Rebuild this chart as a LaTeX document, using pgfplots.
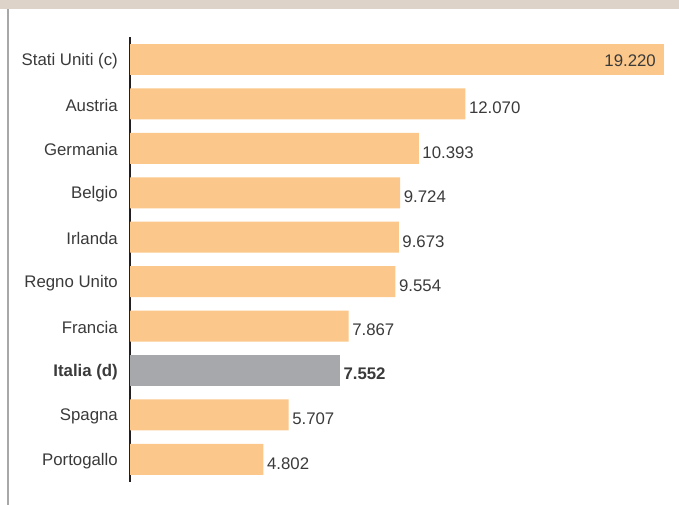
\documentclass[border=0pt]{standalone}
\usepackage{pgfplots}
\pgfplotsset{compat=1.18}
\usepackage{fontspec}
\setmainfont{Liberation Sans}
\definecolor{barorange}{RGB}{251,199,138}
\definecolor{bargray}{RGB}{167,168,172}
\definecolor{txt}{RGB}{58,58,58}
\definecolor{band}{RGB}{222,211,200}
\definecolor{sideline}{RGB}{168,168,168}
\definecolor{axisline}{RGB}{35,31,32}
\begin{document}
\begin{tikzpicture}
\path[use as bounding box] (0,0) rectangle (679bp,505bp);
\fill[band] (0,495.5bp) rectangle (679bp,505bp);
\draw[sideline, line width=2bp] (7.5bp,0) -- (7.5bp,495.5bp);
\begin{axis}[
  at={(130bp,23.4bp)}, anchor=south west,
  scale only axis, width=534bp, height=444.3bp,
  xmin=0, xmax=19220,
  ymin=-0.5, ymax=9.5,
  y dir=reverse,
  axis x line=none,
  axis y line*=left,
  axis line style={line width=2bp, color=axisline},
  ytick={0,...,9},
  yticklabels={Stati Uniti (c),Austria,Germania,Belgio,Irlanda,Regno Unito,Francia,\textbf{Italia (d)},Spagna,Portogallo},
  major tick length=0pt,
  yticklabel style={font=\fontsize{16.8bp}{20bp}\selectfont, text=txt, inner sep=0pt, xshift=-12bp, yshift=-1.5bp},
  xbar, bar width=31bp, bar shift=0pt,
  clip=false,
  point meta=x,
  /pgf/number format/.cd, 1000 sep={.}, fixed, precision=0, assume math mode=true,
  /pgfplots/.cd,
  nodes near coords,
  nodes near coords style={font=\fontsize{16.8bp}{20bp}\selectfont, text=txt, anchor=west, inner sep=0pt, xshift=3.5bp, yshift=-4bp},
]
\addplot[fill=barorange, draw=none] coordinates {(12070,1) (10393,2) (9724,3) (9673,4) (9554,5) (7867,6) (5707,8) (4802,9)};
\addplot[fill=barorange, draw=none, nodes near coords style={anchor=east, xshift=-11.5bp, yshift=3bp}] coordinates {(19220,0)};
\addplot[fill=bargray, draw=none, nodes near coords style={font=\fontsize{16.8bp}{20bp}\selectfont\bfseries, yshift=0.5bp}] coordinates {(7552,7)};
\end{axis}
\end{tikzpicture}
\end{document}
